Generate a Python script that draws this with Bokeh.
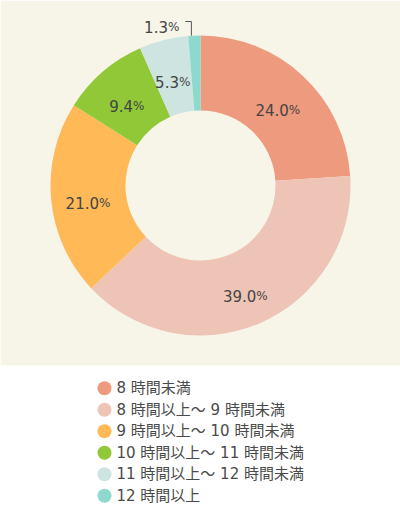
import numpy as np
from bokeh.plotting import figure
from bokeh.models import Range1d, ColumnDataSource
from bokeh.core.properties import value
from bokeh.embed import file_html
from bokeh.resources import INLINE

# ---- data ----
categories = ["8 時間未満", "8 時間以上～ 9 時間未満", "9 時間以上～ 10 時間未満",
              "10 時間以上～ 11 時間未満", "11 時間以上～ 12 時間未満", "12 時間以上"]
shares = [24.0, 39.0, 21.0, 9.4, 5.3, 1.3]
colors = ["#EE9A7E", "#EEC4B6", "#FFB957", "#90C837", "#CDE4E0", "#8DD9CD"]

# ---- geometry (reference pixel space, y measured from top) ----
W, H = 400, 515
def Y(y):
    return H - y

CX, CY = 200, Y(185)
R_IN, R_OUT = 75, 150
LABEL_R = 113

p = figure(width=W, height=H, x_range=Range1d(0, W), y_range=Range1d(0, H),
           x_axis_type=None, y_axis_type=None, toolbar_location=None,
           output_backend="svg", min_border=0)
p.grid.visible = False
p.outline_line_color = None
p.background_fill_color = "white"
p.border_fill_color = "white"

# beige panel behind the donut
p.quad(left=[0], right=[W], bottom=[Y(365)], top=[H], fill_color="#F7F4E8", line_color=None)

vals = np.array(shares, dtype=float)
frac = vals / vals.sum()
cum_end = np.cumsum(frac)
cum_start = cum_end - frac
a_start = np.pi / 2 - 2 * np.pi * cum_start
a_end = np.pi / 2 - 2 * np.pi * cum_end

src = ColumnDataSource(dict(start=a_end, end=a_start, color=colors))
p.annular_wedge(x=CX, y=CY, inner_radius=R_IN, outer_radius=R_OUT,
                start_angle="start", end_angle="end", direction="anticlock",
                fill_color="color", line_color=None, source=src)

mid = (a_start + a_end) / 2
num_fs, pct_fs = 15, 12
font = value("DejaVu Sans")

def num_width(s):
    return sum(0.318 * num_fs if c == "." else 0.636 * num_fs for c in s)

ix, iy, nums = [], [], []
for i, v in enumerate(shares):
    s = f"{v:.1f}"
    if v >= 3:
        x = CX + LABEL_R * np.cos(mid[i])
        y = CY + LABEL_R * np.sin(mid[i]) - 1
        d = (num_width(s) - 0.95 * pct_fs) / 2
        ix.append(x + d)
        iy.append(y - 5.5)
        nums.append(s)
p.text(x=ix, y=iy, text=nums, text_font=font, text_font_size=f"{num_fs}px",
       text_color="#444444", text_align="right", text_baseline="alphabetic")
p.text(x=ix, y=iy, text=["%"] * len(ix), text_font=font, text_font_size=f"{pct_fs}px",
       text_color="#444444", text_align="left", text_baseline="alphabetic")

# outside label with leader line for small slices
for i, v in enumerate(shares):
    if v < 3:
        s = f"{v:.1f}"
        x0 = CX + R_OUT * np.cos(mid[i]) - 3
        y0 = CY + R_OUT * np.sin(mid[i])
        y1 = CY + 164
        x1 = x0 - 6
        p.line(x=[x0, x0, x1], y=[y0, y1, y1], line_color="#555555", line_width=1)
        xr = x1 - 6
        p.text(x=[xr - 0.95 * pct_fs], y=[y1 - 5.5], text=[s], text_font=font,
               text_font_size=f"{num_fs}px", text_color="#444444",
               text_align="right", text_baseline="alphabetic")
        p.text(x=[xr - 0.95 * pct_fs], y=[y1 - 5.5], text=["%"], text_font=font,
               text_font_size=f"{pct_fs}px", text_color="#444444",
               text_align="left", text_baseline="alphabetic")

# legend
ly = [Y(387.7 + 21.5 * i) for i in range(len(categories))]
p.scatter(x=[104] * len(categories), y=ly, marker="circle", size=14,
          fill_color=colors, line_color=None)
p.text(x=[116] * len(categories), y=ly, text=categories,
       text_font=value("DejaVu Sans, Noto Sans CJK JP"), text_font_size="15px",
       text_color="#4a4a4a", text_align="left", text_baseline="middle")

open("out.html", "w").write(file_html(p, INLINE))
